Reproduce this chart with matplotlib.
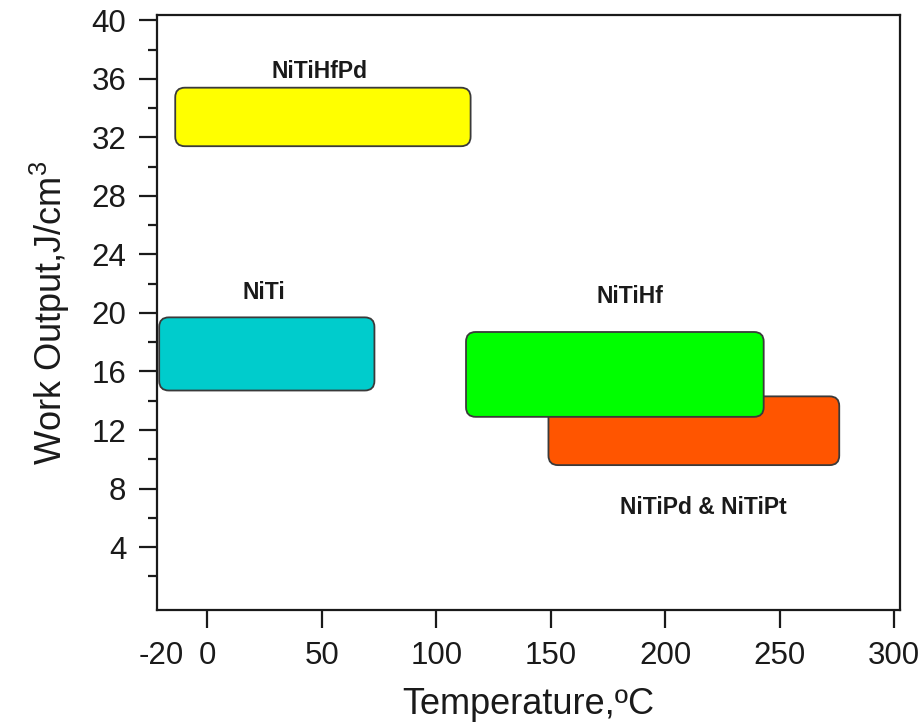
"""
Work output vs temperature ranges for NiTi based shape memory alloys
"""

import matplotlib
matplotlib.use('Agg')
import matplotlib.pyplot as plt
from matplotlib.patches import FancyBboxPatch
import numpy as np

plt.rcParams['font.family'] = ['Liberation Sans', 'DejaVu Sans']
plt.rcParams['mathtext.fontset'] = 'custom'
plt.rcParams['mathtext.rm'] = 'Liberation Sans'
plt.rcParams['mathtext.it'] = 'Liberation Sans'

# alloy ranges (temperature in C, work output in J/cm3)
alloys = ['NiTiHfPd', 'NiTi', 'NiTiPd & NiTiPt', 'NiTiHf']
t_low = [-14, -21, 149, 113]
t_high = [115, 73, 276, 243]
w_low = [31.4, 14.7, 9.6, 12.9]
w_high = [35.4, 19.7, 14.3, 18.7]
colors = ['#ffff00', '#00cccc', '#ff5500', '#00ff00']

# where the names sit
label_x = [49, 24.5, 216.5, 184.6]
label_y = [36.5, 21.4, 6.7, 21.1]

xticks = [-20, 0, 50, 100, 150, 200, 250, 300]
yticks = [4, 8, 12, 16, 20, 24, 28, 32, 36, 40]


def main():
 fig = plt.figure(figsize=(9.23, 7.27), dpi=100)
 ax = fig.add_axes([0.170, 0.161, 0.805, 0.818])

 for i in range(len(alloys)):
  box = FancyBboxPatch((t_low[i], w_low[i]), t_high[i] - t_low[i], w_high[i] - w_low[i],
                       boxstyle='round,pad=0,rounding_size=4.2', mutation_aspect=0.156,
                       facecolor=colors[i], edgecolor='#3a3a3a', linewidth=1.3, zorder=2 + i)
  ax.add_patch(box)
  ax.text(label_x[i], label_y[i], alloys[i], ha='center', va='center',
          fontsize=16.5, fontweight='bold', color='#1a1a1a', zorder=10)

 ax.set_xlim(-22, 302.5)
 ax.set_ylim(-0.3, 40.35)

 ax.set_xticks(xticks)
 ax.set_xticklabels(['%d' % t for t in xticks])
 ax.set_yticks(yticks)
 ax.set_yticklabels(['%d' % w for w in yticks])
 ax.set_yticks(np.arange(2, 40, 4), minor=True)

 ax.tick_params(axis='both', which='major', direction='out', length=13, width=1.6,
                labelsize=22.5, pad=9, colors='#1a1a1a')
 ax.tick_params(axis='y', which='minor', direction='out', length=6.5, width=1.6, colors='#1a1a1a')
 ax.xaxis.get_major_ticks()[0].tick1line.set_visible(False)

 for sp in ax.spines.values():
  sp.set_linewidth(1.6)
  sp.set_color('#1a1a1a')

 ax.set_xlabel('Temperature,\u00baC', fontsize=26, labelpad=12, color='#1a1a1a')
 ax.set_ylabel('Work Output,J/cm$^{3}$', fontsize=26, labelpad=14, color='#1a1a1a')

 plt.savefig('out.png', dpi=100)


if __name__ == '__main__':
    main()
